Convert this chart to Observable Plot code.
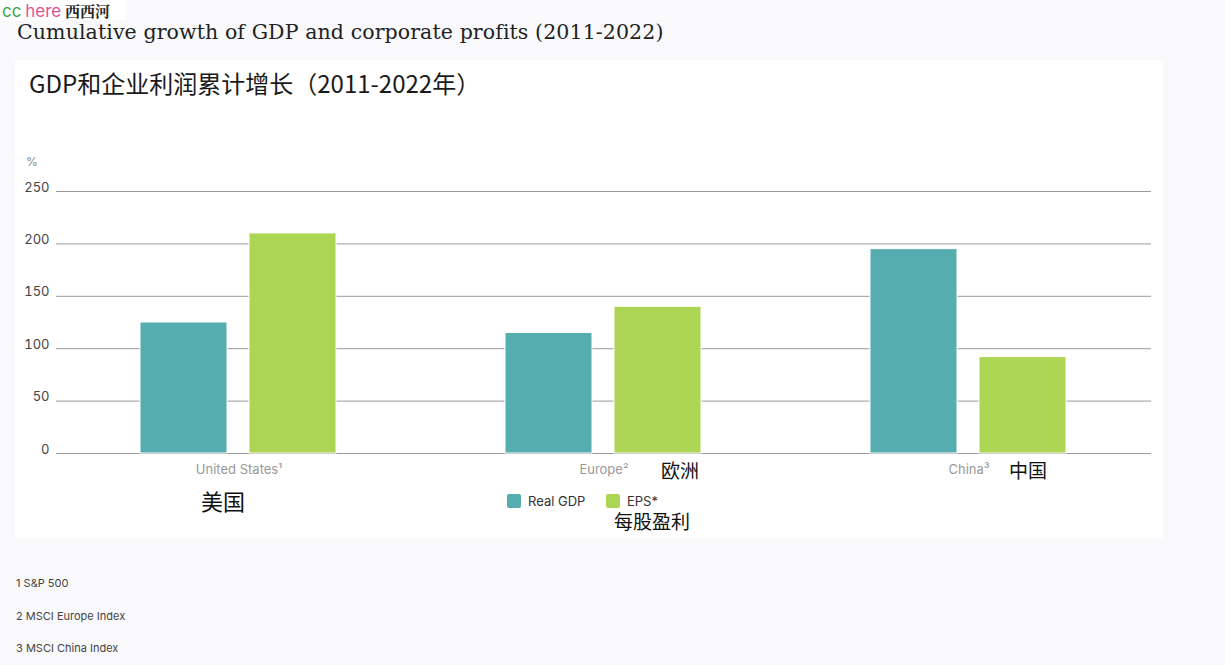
<!DOCTYPE html>
<html>
<head>
<meta charset="utf-8">
<script src="https://cdn.jsdelivr.net/npm/d3@7"></script>
<script src="https://cdn.jsdelivr.net/npm/@observablehq/plot@0.6"></script>
<style>
  html, body { margin: 0; padding: 0; }
  body { width: 1225px; height: 665px; background: #f9f9fb; position: relative; overflow: hidden; font-family: Inter, Roboto, sans-serif; }
  .abs { position: absolute; white-space: nowrap; }
  #wm { left: 0; top: 0; width: 124px; height: 20px; background: #fff; font-size: 17px; line-height: 19px; padding-left: 2px; font-family: "Noto Sans CJK SC", sans-serif; }
  #title { left: 17px; top: 21px; font-family: "DejaVu Serif", serif; font-size: 20.5px; line-height: 22px; color: #222; letter-spacing: 0.1px; }
  #panel { left: 15px; top: 60px; width: 1148px; height: 478px; background: #fff; }
  #zhtitle { left: 29px; top: 65px; font-family: "Noto Sans CJK SC", sans-serif; font-size: 24px; color: #1a1a1a; }
  #pct { left: 26px; top: 154px; font-size: 12px; color: #888; }
  #chart { left: 15px; top: 150px; }
  .zh { font-family: "Noto Sans CJK SC", sans-serif; color: #111; }
  .legend { top: 493px; font-size: 13px; color: #333; display: flex; align-items: center; }
  .sw { width: 14px; height: 14px; border-radius: 2px; margin-right: 7px; }
  .foot { left: 16px; font-size: 11px; color: #444; }
</style>
</head>
<body>
<div id="wm" class="abs"><span style="color:#3aa845;font-family:Inter,sans-serif">cc</span> <span style="color:#e0509a;font-family:Inter,sans-serif">here</span> <span style="color:#222;font-size:15px;font-weight:700;font-family:'Noto Serif CJK SC','Noto Sans CJK SC',serif">西西河</span></div>
<div id="title" class="abs">Cumulative growth of GDP and corporate profits (2011-2022)</div>
<div id="panel" class="abs"></div>
<div id="zhtitle" class="abs">GDP和企业利润累计增长（2011-2022年）</div>
<div id="pct" class="abs">%</div>
<div id="chart" class="abs"></div>
<div class="abs zh" style="left:201px;top:484px;font-size:22px;">美国</div>
<div class="abs zh" style="left:661px;top:456px;font-size:19px;">欧洲</div>
<div class="abs zh" style="left:1009px;top:456px;font-size:19px;">中国</div>
<div class="abs zh" style="left:614px;top:507px;font-size:19px;">每股盈利</div>
<div id="leg1" class="abs legend" style="left:507px;"><div class="sw" style="background:#56adb0"></div>Real GDP</div>
<div id="leg2" class="abs legend" style="left:606px;"><div class="sw" style="background:#acd554"></div>EPS*</div>
<div class="abs foot" style="top:576px;">1 S&amp;P 500</div>
<div class="abs foot" style="top:609px;">2 MSCI Europe Index</div>
<div class="abs foot" style="top:641px;">3 MSCI China Index</div>
<script>
const regions = ["United States¹", "Europe²", "China³"];
const series = ["Real GDP", "EPS*"];
const realGdp = [125, 115, 195];
const eps = [210, 140, 92];
const yTicks = [0, 50, 100, 150, 200, 250];
const colors = ["#56adb0", "#acd554"];

const data = regions.flatMap((r, i) => [
  {region: r, series: series[0], value: realGdp[i]},
  {region: r, series: series[1], value: eps[i]}
]);

const chart = Plot.plot({
  width: 1148,
  height: 330,
  marginLeft: 40,
  marginRight: 12,
  marginTop: 41,
  marginBottom: 27,
  style: {fontFamily: "Inter, Roboto, sans-serif", fontSize: "13px", background: "transparent", overflow: "visible"},
  fx: {domain: regions, padding: 0, label: null},
  x: {domain: series, paddingInner: 0.2, paddingOuter: 0.76, axis: null},
  y: {domain: [0, 250], label: null},
  color: {domain: series, range: colors},
  marks: [
    Plot.gridY(yTicks, {stroke: "#9a9a9a", strokeOpacity: 1, strokeWidth: 1}),
    Plot.barY(data, {fx: "region", x: "series", y: "value", fill: "series", stroke: "#fff", strokeWidth: 1}),
    Plot.axisY(yTicks, {tickSize: 0, tickPadding: 7, dy: -4, fill: "#444", fontSize: 13, label: null}),
    Plot.axisFx({anchor: "bottom", tickSize: 0, tickPadding: 11, fill: "#999", fontSize: 13, label: null})
  ]
});
document.getElementById("chart").appendChild(chart);
</script>
</body>
</html>
